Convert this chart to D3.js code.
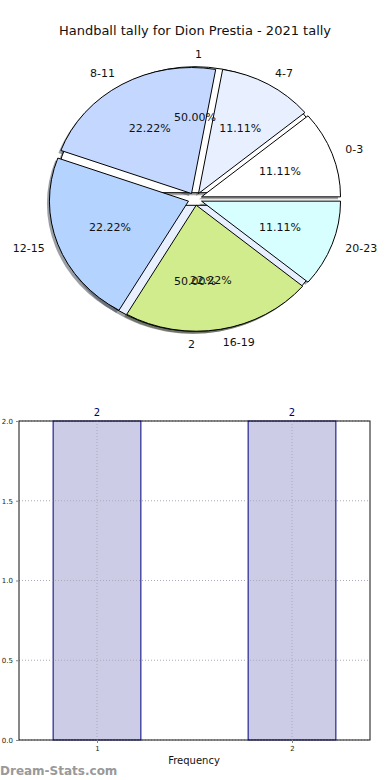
<!DOCTYPE html>
<html>
<head>
<meta charset="utf-8">
<script src="https://cdn.jsdelivr.net/npm/d3@7"></script>
<style>
  body { margin: 0; background: #fff; }
  svg { display: block; font-family: "DejaVu Sans", sans-serif; }
</style>
</head>
<body>
<svg id="chart" width="390" height="780"></svg>
<script>
// hour buckets (outer pie)
var hourLabels = ["0-3", "4-7", "8-11", "12-15", "16-19", "20-23"]
var hourCounts = [1, 1, 2, 2, 2, 1]
var hourColors = ["#ffffff", "#e8f0ff", "#c4d8ff", "#b4d4ff", "#d0ec8c", "#d8ffff"]

// second pie drawn underneath (1 / 2)
var freqLabels = ["1", "2"]
var freqCounts = [1, 1]
var freqColors = ["#ffffff", "#e8f0ff"]

// bar chart
var barCats = [1, 2]
var barValues = [2, 2]
var yTicks = [0, 0.5, 1.0, 1.5, 2.0]

var svg = d3.select("#chart")

svg.append("text")
    .attr("x", 195)
    .attr("y", 35)
    .attr("text-anchor", "middle")
    .attr("font-size", 13)
    .attr("fill", "#111")
    .text("Handball tally for Dion Prestia - 2021 tally")

// pie in "data units" (radius 1), mapped to an ellipse
var cx = 195, cy = 199, rx = 139, ry = 126
var sx = d3.scaleLinear().domain([-1, 1]).range([cx - rx, cx + rx])
var sy = d3.scaleLinear().domain([-1, 1]).range([cy + ry, cy - ry])
var explode = 0.05

function wedges(counts, labels, colors, start) {
    var total = d3.sum(counts)
    var acc = start
    return counts.map(function (c, i) {
        var t1 = acc, t2 = acc + c / total * 2 * Math.PI
        acc = t2
        var tm = (t1 + t2) / 2
        return {
            t1: t1, t2: t2, tm: tm,
            ex: explode * Math.cos(tm), ey: explode * Math.sin(tm),
            label: labels[i], color: colors[i],
            pct: (c / total * 100).toFixed(2) + "%"
        }
    })
}

var outer = wedges(hourCounts, hourLabels, hourColors, 0)
var inner = wedges(freqCounts, freqLabels, freqColors, 0)

var arc = d3.arc()
    .innerRadius(0)
    .outerRadius(1)
    .startAngle(d => Math.PI / 2 - d.t2)
    .endAngle(d => Math.PI / 2 - d.t1)

function wedgeTransform(d, dx, dy) {
    return "translate(" + (sx(d.ex) + dx) + "," + (sy(d.ey) + dy) + ") scale(" + rx + "," + ry + ")"
}

var pieG = svg.append("g").attr("class", "pie")
var all = inner.concat(outer)

// shadows first (lower z-order)
pieG.append("g")
    .selectAll("path")
    .data(all)
    .enter().append("path")
    .attr("d", arc)
    .attr("transform", d => wedgeTransform(d, -2.5, 2.5))
    .attr("fill", d => {
        var c = d3.rgb(d.color)
        return d3.rgb(c.r * 0.3, c.g * 0.3, c.b * 0.3)
    })
    .attr("opacity", 0.5)

// hidden pie then the hour pie on top
pieG.append("g")
    .selectAll("path")
    .data(all)
    .enter().append("path")
    .attr("d", arc)
    .attr("transform", d => wedgeTransform(d, 0, 0))
    .attr("fill", d => d.color)
    .attr("stroke", "#000")
    .attr("stroke-width", 1)
    .attr("vector-effect", "non-scaling-stroke")

function addLabels(data) {
    pieG.append("g")
        .selectAll("text")
        .data(data)
        .enter().append("text")
        .attr("x", d => sx(d.ex + 1.1 * Math.cos(d.tm)))
        .attr("y", d => sy(d.ey + 1.1 * Math.sin(d.tm)))
        .attr("dy", "0.35em")
        .attr("text-anchor", d => Math.cos(d.tm) > 0 ? "start" : "end")
        .attr("font-size", 11)
        .attr("fill", "#111")
        .text(d => d.label)

    pieG.append("g")
        .selectAll("text")
        .data(data)
        .enter().append("text")
        .attr("x", d => sx(d.ex + 0.6 * Math.cos(d.tm)))
        .attr("y", d => sy(d.ey + 0.6 * Math.sin(d.tm)))
        .attr("dy", "0.35em")
        .attr("text-anchor", "middle")
        .attr("font-size", 11)
        .attr("fill", "#111")
        .text(d => d.pct)
}
addLabels(outer)
addLabels(inner)

// ---- bar chart ----
var bx0 = 19, bx1 = 370, by0 = 421, by1 = 740
var x = d3.scaleLinear().domain([0.6, 2.4]).range([bx0, bx1])
var y = d3.scaleLinear().domain([0, 2]).range([by1, by0])
var barW = 0.45

var barG = svg.append("g").attr("class", "bars")

barG.selectAll("rect")
    .data(barCats)
    .enter().append("rect")
    .attr("x", (d, i) => x(d - barW / 2))
    .attr("y", (d, i) => y(barValues[i]))
    .attr("width", (d, i) => x(d + barW / 2) - x(d - barW / 2))
    .attr("height", (d, i) => y(0) - y(barValues[i]))
    .attr("fill", "#ccccE6")
    .attr("stroke", "#000080")
    .attr("stroke-width", 1)

// grid
barG.append("g")
    .selectAll("line")
    .data(yTicks)
    .enter().append("line")
    .attr("x1", bx0).attr("x2", bx1)
    .attr("y1", d => y(d)).attr("y2", d => y(d))
    .attr("stroke", "#aaaabb")
    .attr("stroke-dasharray", "1,2")

barG.append("g")
    .selectAll("line")
    .data(barCats)
    .enter().append("line")
    .attr("x1", d => x(d)).attr("x2", d => x(d))
    .attr("y1", by0).attr("y2", by1)
    .attr("stroke", "#aaaabb")
    .attr("stroke-dasharray", "1,2")

// frame
barG.append("rect")
    .attr("x", bx0).attr("y", by0)
    .attr("width", bx1 - bx0).attr("height", by1 - by0)
    .attr("fill", "none")
    .attr("stroke", "#111")
    .attr("stroke-width", 1)

var yAxis = d3.axisLeft(y).tickValues(yTicks).tickFormat(d3.format(".1f")).tickSize(3)
var xAxis = d3.axisBottom(x).tickValues(barCats).tickFormat(d3.format("d")).tickSize(3)

var yg = barG.append("g").attr("transform", "translate(" + bx0 + ",0)").call(yAxis)
var xg = barG.append("g").attr("transform", "translate(0," + by1 + ")").call(xAxis)
yg.select(".domain").remove()
xg.select(".domain").remove()
yg.selectAll("text").attr("font-size", 7).attr("fill", "#222").attr("font-family", "DejaVu Sans")
xg.selectAll("text").attr("font-size", 7).attr("fill", "#222").attr("font-family", "DejaVu Sans")
yg.selectAll(".tick line").attr("stroke", "#888")
xg.selectAll(".tick line").attr("stroke", "#888")

barG.append("g")
    .selectAll("text")
    .data(barCats)
    .enter().append("text")
    .attr("x", d => x(d))
    .attr("y", (d, i) => y(barValues[i]) - 5)
    .attr("text-anchor", "middle")
    .attr("font-size", 10)
    .attr("fill", "#000066")
    .text((d, i) => barValues[i])

svg.append("text")
    .attr("x", 194)
    .attr("y", 764)
    .attr("text-anchor", "middle")
    .attr("font-size", 10)
    .attr("fill", "#111")
    .text("Frequency")

svg.append("text")
    .attr("x", 0)
    .attr("y", 775)
    .attr("font-size", 12)
    .attr("font-weight", "bold")
    .attr("fill", "#999")
    .text("Dream-Stats.com")
</script>
</body>
</html>
